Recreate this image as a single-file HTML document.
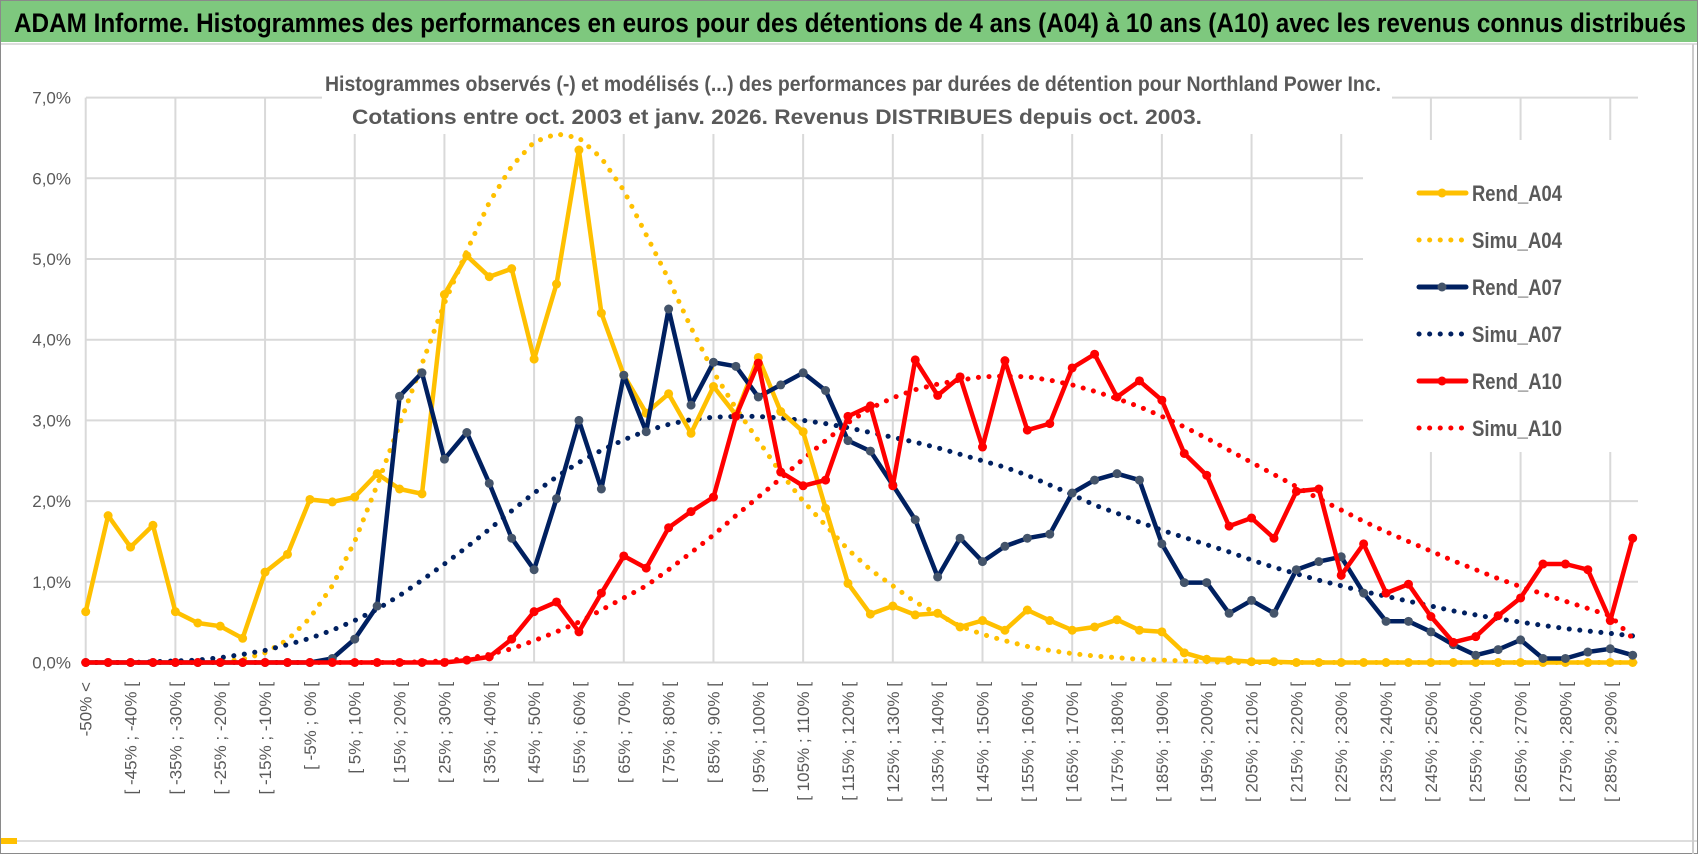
<!DOCTYPE html>
<html><head><meta charset="utf-8"><style>
html,body{margin:0;padding:0;background:#fff;}
svg{display:block;font-family:"Liberation Sans",sans-serif;}
</style></head><body>
<svg id="chart" width="1698" height="854" viewBox="0 0 1698 854" xmlns="http://www.w3.org/2000/svg">
<rect x="0.5" y="0.5" width="1697" height="853" fill="#fff" stroke="#8a8a8a"/>
<rect x="1" y="1" width="1696" height="41" fill="#7ec87e"/>
<text x="14" y="32" font-size="27" font-weight="bold" fill="#000" textLength="1672" lengthAdjust="spacingAndGlyphs">ADAM Informe. Histogrammes des performances en euros pour des détentions de 4 ans (A04) à 10 ans (A10) avec les revenus connus distribués</text>
<line x1="1" y1="44" x2="1697" y2="44" stroke="#ddd" stroke-width="2"/>
<line x1="1" y1="841" x2="1697" y2="841" stroke="#ddd" stroke-width="2"/>
<rect x="1" y="838" width="16" height="6" fill="#FFC000"/>
<line x1="1693" y1="44" x2="1693" y2="854" stroke="#ccc" stroke-width="2"/>
<g id="grid"></g>
<rect x="322" y="58" width="1070" height="76" fill="#fff"/>
<rect x="1363" y="140" width="280" height="312" fill="#fff"/>
<text x="853" y="91" font-size="21" font-weight="bold" fill="#595959" text-anchor="middle" textLength="1056" lengthAdjust="spacingAndGlyphs">Histogrammes observés (-) et modélisés (...) des performances par durées de détention pour Northland Power Inc.</text>
<text x="777" y="124" font-size="21" font-weight="bold" fill="#595959" text-anchor="middle" textLength="850" lengthAdjust="spacingAndGlyphs">Cotations entre oct. 2003 et janv. 2026. Revenus DISTRIBUES depuis oct. 2003.</text>
<g id="axes"></g>
<g id="series"></g>
<g id="legend"></g>
</svg>
<script>
const categoryCount = 70;
const yTicks = [0,1,2,3,4,5,6,7];
const rendA04 = [0.63,1.82,1.43,1.70,0.63,0.49,0.45,0.30,1.12,1.34,2.02,1.99,2.05,2.34,2.15,2.09,4.56,5.04,4.78,4.88,3.76,4.69,6.35,4.33,3.56,3.09,3.33,2.84,3.42,3.07,3.78,3.11,2.86,1.91,0.98,0.60,0.70,0.59,0.61,0.44,0.52,0.40,0.65,0.52,0.40,0.44,0.53,0.40,0.38,0.12,0.04,0.03,0.01,0.01,0,0,0,0,0,0,0,0,0,0,0,0,0,0,0,0];
const simuA04 = [0,0,0,0,0,0,0.01,0.04,0.12,0.28,0.55,0.95,1.5,2.2,2.95,3.7,4.45,5.1,5.7,6.15,6.45,6.55,6.5,6.25,5.85,5.3,4.75,4.15,3.6,3.15,2.75,2.35,2.0,1.7,1.4,1.15,0.95,0.75,0.6,0.45,0.35,0.27,0.2,0.15,0.11,0.08,0.06,0.04,0.03,0.02,0.01,0,0,0,0,0,0,0,0,0,0,0,0,0,0,0,0,0,0,0];
const rendA07 = [0,0,0,0,0,0,0,0,0,0,0,0.05,0.29,0.70,3.30,3.59,2.52,2.85,2.22,1.54,1.15,2.03,3.00,2.15,3.56,2.86,4.38,3.19,3.72,3.67,3.29,3.44,3.59,3.37,2.75,2.62,2.20,1.77,1.06,1.54,1.25,1.44,1.54,1.59,2.10,2.26,2.34,2.26,1.47,0.99,0.99,0.61,0.77,0.61,1.15,1.25,1.31,0.86,0.51,0.51,0.38,0.22,0.09,0.16,0.28,0.05,0.05,0.13,0.17,0.09];
const simuA07 = [0,0,0,0.01,0.02,0.03,0.06,0.1,0.15,0.22,0.3,0.4,0.52,0.66,0.83,1.02,1.22,1.43,1.65,1.88,2.1,2.3,2.48,2.63,2.76,2.87,2.95,3.01,3.04,3.05,3.05,3.03,3.0,2.96,2.91,2.85,2.79,2.73,2.66,2.58,2.5,2.42,2.32,2.2,2.08,1.95,1.85,1.74,1.64,1.55,1.46,1.37,1.27,1.18,1.1,1.02,0.95,0.88,0.82,0.76,0.7,0.64,0.59,0.54,0.5,0.46,0.42,0.39,0.36,0.33];
const rendA10 = [0,0,0,0,0,0,0,0,0,0,0,0,0,0,0,0,0,0.03,0.07,0.29,0.63,0.75,0.38,0.86,1.32,1.17,1.67,1.87,2.05,3.05,3.71,2.36,2.19,2.26,3.05,3.18,2.19,3.75,3.31,3.54,2.67,3.74,2.88,2.96,3.65,3.82,3.29,3.49,3.25,2.59,2.32,1.69,1.79,1.54,2.12,2.15,1.08,1.47,0.86,0.97,0.57,0.25,0.32,0.58,0.80,1.22,1.22,1.15,0.52,1.54];
const simuA10 = [0,0,0,0,0,0,0,0,0,0,0,0,0,0,0,0.01,0.02,0.05,0.1,0.17,0.27,0.38,0.5,0.65,0.8,0.95,1.15,1.36,1.58,1.82,2.05,2.28,2.52,2.75,2.97,3.15,3.28,3.38,3.45,3.5,3.54,3.55,3.54,3.5,3.44,3.36,3.27,3.17,3.05,2.92,2.78,2.63,2.48,2.33,2.18,2.03,1.89,1.75,1.62,1.5,1.38,1.26,1.15,1.04,0.94,0.85,0.76,0.67,0.58,0.3];

const NS="http://www.w3.org/2000/svg";
const X0=85.7, DX=22.42, Y0=662.5, DY=80.7;
const xs=i=>X0+DX*i;
const ys=v=>Y0-DY*v;
function el(tag,attrs,parent){const e=document.createElementNS(NS,tag);for(const k in attrs)e.setAttribute(k,attrs[k]);parent.appendChild(e);return e;}
function catLabel(i){if(i===0)return "-50% <";const a=-50+5*(i-1);return "[ "+a+"% ; "+(a+5)+"% [";}

const grid=document.getElementById('grid');
yTicks.forEach(t=>{
  const g=el('line',{x1:86,x2:1638,y1:ys(t),y2:ys(t),stroke:'#d9d9d9','stroke-width':2},grid);
  
  
});
for(let i=0;i<categoryCount;i+=4){
  const g=el('line',{x1:xs(i),x2:xs(i),y1:ys(7),y2:ys(0),stroke:'#d9d9d9','stroke-width':2},grid);
  
  
}
const axes=document.getElementById('axes');
yTicks.forEach(t=>{
  const tx=el('text',{x:71,y:ys(t)+6,'font-size':17,fill:'#595959','text-anchor':'end'},axes);
  tx.textContent=t.toFixed(1).replace('.',',')+'%';
  
  
});
for(let i=0;i<categoryCount;i+=2){
  const x=xs(i)+6, y=682;
  const tx=el('text',{x:x,y:y,'font-size':17,fill:'#595959','text-anchor':'end',transform:`rotate(-90 ${x} ${y})`},axes);
  tx.textContent=catLabel(i);
  
  
}
const series=document.getElementById('series');
function pts(arr){return arr.map((v,i)=>xs(i).toFixed(1)+','+ys(v).toFixed(1)).join(' ');}
function dotted(arr,color,name){
  const p=el('polyline',{points:pts(arr),fill:'none',stroke:color,'stroke-width':5,'stroke-linecap':'round','stroke-dasharray':'0.1 10.5'},series);
  
  
}
function solid(arr,color,mcolor,name){
  const p=el('polyline',{points:pts(arr),fill:'none',stroke:color,'stroke-width':4.5,'stroke-linejoin':'round'},series);
  
  
  arr.forEach((v,i)=>{
    const c=el('circle',{cx:xs(i),cy:ys(v),r:4.5,fill:mcolor},series);
    
    
  });
}
dotted(simuA04,'#FFC000','simu-a04-line');
dotted(simuA07,'#002060','simu-a07-line');
dotted(simuA10,'#FF0000','simu-a10-line');
solid(rendA04,'#FFC000','#FFC000','rend-a04-line');
solid(rendA07,'#002060','#44546A','rend-a07-line');
solid(rendA10,'#FF0000','#FF0000','rend-a10-line');

const legend=document.getElementById('legend');
const legendNames=['Rend_A04','Simu_A04','Rend_A07','Simu_A07','Rend_A10','Simu_A10'];
const legendColors=['#FFC000','#FFC000','#002060','#002060','#FF0000','#FF0000'];
const legendMarkers=['#FFC000',null,'#44546A',null,'#FF0000',null];
legendNames.forEach((n,k)=>{
  const y=193+47*k;
  const g=el('g',{},legend);
  
  
  if(legendMarkers[k]){
    el('line',{x1:1419,x2:1466,y1:y,y2:y,stroke:legendColors[k],'stroke-width':5,'stroke-linecap':'round'},g);
    el('circle',{cx:1442,cy:y,r:4.5,fill:legendMarkers[k]},g);
  } else {
    el('line',{x1:1419,x2:1466,y1:y,y2:y,stroke:legendColors[k],'stroke-width':5,'stroke-linecap':'round','stroke-dasharray':'0.1 10.5'},g);
  }
  const t=el('text',{x:1472,y:y+8,'font-size':22,'font-weight':'bold',fill:'#595959',textLength:90,lengthAdjust:'spacingAndGlyphs'},g);
  t.textContent=n;
});
</script>
</body></html>
